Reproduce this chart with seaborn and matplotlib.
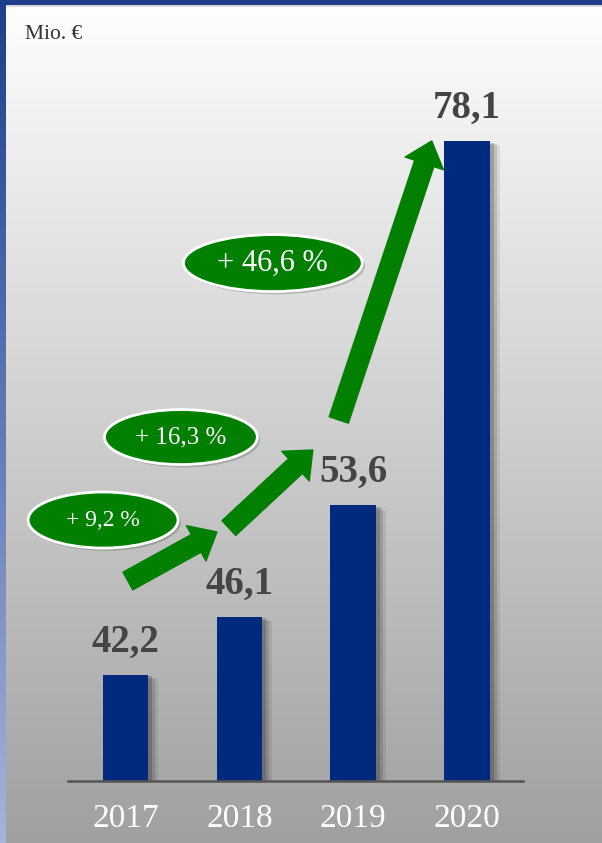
import numpy as np
import pandas as pd
import matplotlib
matplotlib.use("Agg")
import matplotlib.pyplot as plt
import matplotlib.patheffects as pe
from matplotlib.patches import Ellipse
import seaborn as sns

# ---------------- data ----------------
years = ["2017", "2018", "2019", "2020"]
values = [42.2, 46.1, 53.6, 78.1]
value_labels = ["42,2", "46,1", "53,6", "78,1"]
growth_labels = ["+ 9,2 %", "+ 16,3 %", "+ 46,6 %"]
unit_label = "Mio. €"

# ---------------- style ----------------
sns.set_theme(style="white")
plt.rcParams["font.family"] = ["Liberation Serif", "DejaVu Serif"]

BAR = "#012a7e"
GREEN = "#007f00"
W, H = 602, 843

fig = plt.figure(figsize=(W / 100, H / 100), dpi=100)

# background gradient + blue frame
bg = fig.add_axes([0, 0, 1, 1])
rows = np.linspace(0, 1, H)[:, None]
gray = 255 - 95 * rows
img = np.repeat(gray[:, :, None], 3, axis=2) * np.ones((1, W, 3))
img = img / 255.0
top_blue = np.array([0x1d, 0x3e, 0x8d]) / 255.0
bot_blue = np.array([0xa6, 0xb4, 0xdc]) / 255.0
img[:5, :, :] = top_blue
img[5:7, :, :] = img[5:7, :, :] * 0.85
left = top_blue[None, :] * (1 - rows) + bot_blue[None, :] * rows
img[:, :6, :] = left[:, None, :]
bg.imshow(img, extent=(0, W, H, 0), aspect="auto", zorder=0)
bg.set_xlim(0, W)
bg.set_ylim(H, 0)
bg.axis("off")

# main axes (pixel geometry)
x0, x1 = 68, 523
ybase, ytop = 781, 60
ax = fig.add_axes([x0 / W, (H - ybase) / H, (x1 - x0) / W, (ybase - ytop) / H])
ax.patch.set_alpha(0)

df = pd.DataFrame({"year": years, "value": values})
sns.barplot(data=df, x="year", y="value", color=BAR, width=0.4,
            saturation=1, linewidth=0, edgecolor="none", ax=ax, zorder=3)
for bar in ax.patches:
    bar.set_linewidth(0)
    bar.set_edgecolor("none")
    bar.set_path_effects([
        pe.SimplePatchShadow(offset=(7, -3), shadow_rgbFace="black", alpha=0.08),
        pe.SimplePatchShadow(offset=(5, -2), shadow_rgbFace="black", alpha=0.12),
        pe.SimplePatchShadow(offset=(3, -1), shadow_rgbFace="black", alpha=0.18),
        pe.Normal()])

ymin = 35.07
ax.set_ylim(ymin, ymin + (ybase - ytop) / 14.87)
ax.set_xlim(-0.504, 3.49)

for i, (v, lab) in enumerate(zip(values, value_labels)):
    ax.annotate(lab, xy=(i, v), xytext=(0, 17), textcoords="offset points",
                ha="center", va="baseline", fontsize=28, fontweight="bold",
                color="#444444", zorder=5)

# axis styling
for s in ["top", "right", "left"]:
    ax.spines[s].set_visible(False)
ax.spines["bottom"].set_color("#555555")
ax.spines["bottom"].set_linewidth(1.8)
ax.spines["bottom"].set_zorder(4)
ax.set_yticks([])
ax.set_xlabel("")
ax.set_ylabel("")
ax.tick_params(axis="x", length=0, pad=16, labelsize=24, labelcolor="white")

# growth arrows (data coordinates)
arrows = [((0.022, 48.52), (0.803, 51.82)),
          ((0.908, 52.08), (1.645, 57.33)),
          ((1.873, 59.35), (2.689, 78.11))]
for tail, tip in arrows:
    ax.annotate("", xy=tip, xytext=tail, xycoords="data", textcoords="data",
                arrowprops=dict(arrowstyle="simple,head_length=17,head_width=29,tail_width=14.5",
                                color=GREEN, shrinkA=0, shrinkB=0, mutation_scale=1),
                zorder=4)

# growth ellipses
ellipses = [((-0.196, 52.62), 1.316, 3.77, 17),
            ((0.487, 58.20), 1.342, 3.70, 18),
            ((1.294, 69.90), 1.570, 3.83, 22)]
for (c, w, h, fs), lab in zip(ellipses, growth_labels):
    e = Ellipse(c, w, h, facecolor=GREEN, edgecolor="white", linewidth=2,
                zorder=6, clip_on=False)
    e.set_path_effects([pe.SimplePatchShadow(offset=(2, -2), alpha=0.2), pe.Normal()])
    ax.add_patch(e)
    ax.text(c[0], c[1], lab, ha="center", va="center", color="white",
            fontsize=fs, zorder=7, clip_on=False)

fig.text(25 / W, 1 - 39 / H, unit_label, fontsize=15.5, color="#333333",
         ha="left", va="baseline")

fig.savefig("out.png", dpi=100)
